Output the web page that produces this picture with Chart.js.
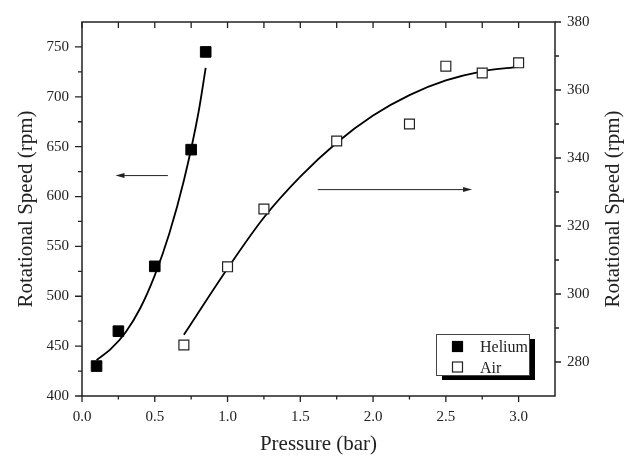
<!DOCTYPE html>
<html>
<head>
<meta charset="utf-8">
<script src="https://cdn.jsdelivr.net/npm/chart.js@4.4.1/dist/chart.umd.min.js"></script>
<style>
  html, body { margin: 0; padding: 0; background: #fff; }
  canvas { display: block; }
</style>
</head>
<body>
<canvas id="speedChart" width="634" height="458"></canvas>
<script>
// measured points
const heliumPressure = [0.1, 0.25, 0.5, 0.75, 0.85];
const heliumSpeed = [430, 465, 530, 647, 745];
const airPressure = [0.7, 1.0, 1.25, 1.75, 2.25, 2.5, 2.75, 3.0];
const airSpeed = [285, 308, 325, 345, 350, 367, 365, 368];

// fitted curves
const heliumFitPressure = [0.1, 0.2, 0.3, 0.4, 0.5, 0.6, 0.7, 0.8, 0.85];
const heliumFitSpeed = [436, 447.5, 464, 488, 521, 563, 616, 684, 729];
const airFitPressure = [0.7, 1.0, 1.25, 1.5, 1.75, 2.0, 2.25, 2.5, 2.75, 3.0];
const airFitSpeed = [288, 307.5, 322.5, 334.5, 344.5, 352.5, 358.5, 362.8, 365.5, 366.8];

// axis ticks
const pressureTicks = [0, 0.5, 1.0, 1.5, 2.0, 2.5, 3.0];
const pressureMinor = [0.25, 0.75, 1.25, 1.75, 2.25, 2.75];
const heliumTicks = [400, 450, 500, 550, 600, 650, 700, 750];
const heliumMinor = [425, 475, 525, 575, 625, 675, 725];
const airTicks = [280, 300, 320, 340, 360, 380];
const airMinor = [290, 310, 330, 350, 370];

// arrows pointing at each series' axis
const heliumArrowX = [0.59, 0.23];
const heliumArrowY = 621;
const airArrowX = [1.62, 2.68];
const airArrowY = 330.7;

const SERIF = "'Liberation Serif', 'Times New Roman', serif";
const INK = '#222';

const toXY = (xs, ys) => xs.map((x, i) => ({ x: x, y: ys[i] }));

function arrow(ctx, x1, y1, x2, y2) {
    const dir = Math.sign(x2 - x1);
    ctx.beginPath();
    ctx.moveTo(x1, y1);
    ctx.lineTo(x2 - dir * 6, y2);
    ctx.stroke();
    ctx.beginPath();
    ctx.moveTo(x2, y2);
    ctx.lineTo(x2 - dir * 9, y2 - 2.5);
    ctx.lineTo(x2 - dir * 9, y2 + 2.5);
    ctx.closePath();
    ctx.fill();
}

// frame, minor ticks, arrows, legend and the right-hand title
const decorations = {
    id: 'decorations',
    afterDraw(chart) {
        const ctx = chart.ctx;
        const a = chart.chartArea;
        const sx = chart.scales.x, sy = chart.scales.y, sy1 = chart.scales.y1;
        ctx.save();
        ctx.strokeStyle = INK;
        ctx.fillStyle = INK;

        ctx.lineWidth = 1.5;
        ctx.strokeRect(a.left, a.top, a.right - a.left, a.bottom - a.top);

        ctx.lineWidth = 1.3;
        ctx.beginPath();
        pressureTicks.concat(pressureMinor).forEach(v => {
            const px = sx.getPixelForValue(v);
            const len = pressureTicks.includes(v) ? 6 : 3.5;
            ctx.moveTo(px, a.bottom); ctx.lineTo(px, a.bottom + len);
            ctx.moveTo(px, a.top); ctx.lineTo(px, a.top + 6);
        });
        heliumTicks.concat(heliumMinor).forEach(v => {
            const py = sy.getPixelForValue(v);
            const len = heliumTicks.includes(v) ? 7 : 4;
            ctx.moveTo(a.left, py); ctx.lineTo(a.left - len, py);
        });
        airTicks.concat(airMinor).forEach(v => {
            const py = sy1.getPixelForValue(v);
            const len = airTicks.includes(v) ? 6 : 4;
            ctx.moveTo(a.right, py); ctx.lineTo(a.right + len, py);
        });
        ctx.stroke();

        ctx.lineWidth = 1;
        const hy = sy.getPixelForValue(heliumArrowY);
        arrow(ctx, sx.getPixelForValue(heliumArrowX[0]), hy, sx.getPixelForValue(heliumArrowX[1]), hy);
        const ay = sy1.getPixelForValue(airArrowY);
        arrow(ctx, sx.getPixelForValue(airArrowX[0]), ay, sx.getPixelForValue(airArrowX[1]), ay);

        // legend box with drop shadow
        const lx = a.right - 119, ly = a.bottom - 62, lw = 93, lh = 41;
        ctx.fillStyle = '#000';
        ctx.fillRect(lx + 6, ly + 5, lw, lh);
        ctx.fillStyle = '#fff';
        ctx.fillRect(lx, ly, lw, lh);
        ctx.strokeStyle = '#444';
        ctx.lineWidth = 1;
        ctx.strokeRect(lx + 0.5, ly + 0.5, lw, lh);

        ctx.font = '16px ' + SERIF;
        ctx.textAlign = 'left';
        ctx.textBaseline = 'alphabetic';
        chart.data.datasets.slice(0, 2).forEach((ds, i) => {
            const cy = ly + 12.5 + i * 20.5;
            ctx.fillStyle = ds.backgroundColor;
            ctx.fillRect(lx + 16.5, cy - 5, 10, 10);
            ctx.strokeStyle = ds.borderColor;
            ctx.lineWidth = 1.2;
            ctx.strokeRect(lx + 16.5, cy - 5, 10, 10);
            ctx.fillStyle = INK;
            ctx.fillText(ds.label, lx + 44, cy + 5.5);
        });

        ctx.translate(613, (a.top + a.bottom) / 2);
        ctx.rotate(-Math.PI / 2);
        ctx.font = '21px ' + SERIF;
        ctx.textAlign = 'center';
        ctx.textBaseline = 'middle';
        ctx.fillStyle = INK;
        ctx.fillText('Rotational Speed (rpm)', 0, 0);
        ctx.restore();
    }
};

const tickFont = { family: SERIF, size: 15 };
const titleFont = { family: SERIF, size: 21 };

new Chart(document.getElementById('speedChart'), {
    type: 'scatter',
    data: {
        datasets: [
            {
                label: 'Helium',
                data: toXY(heliumPressure, heliumSpeed),
                yAxisID: 'y',
                pointStyle: 'rect',
                pointRadius: 7.5,
                backgroundColor: '#000',
                borderColor: '#000',
                borderWidth: 1,
                order: 0
            },
            {
                label: 'Air',
                data: toXY(airPressure, airSpeed),
                yAxisID: 'y1',
                pointStyle: 'rect',
                pointRadius: 7,
                backgroundColor: '#fff',
                borderColor: '#222',
                borderWidth: 1.2,
                order: 0
            },
            {
                label: 'Helium fit',
                data: toXY(heliumFitPressure, heliumFitSpeed),
                yAxisID: 'y',
                showLine: true,
                pointRadius: 0,
                borderColor: '#000',
                borderWidth: 1.8,
                cubicInterpolationMode: 'monotone',
                order: 1
            },
            {
                label: 'Air fit',
                data: toXY(airFitPressure, airFitSpeed),
                yAxisID: 'y1',
                showLine: true,
                pointRadius: 0,
                borderColor: '#000',
                borderWidth: 1.8,
                cubicInterpolationMode: 'monotone',
                order: 1
            }
        ]
    },
    options: {
        responsive: false,
        animation: false,
        devicePixelRatio: 1,
        layout: { padding: { top: 15 } },
        plugins: {
            legend: { display: false },
            tooltip: { enabled: false }
        },
        scales: {
            x: {
                type: 'linear',
                min: 0,
                max: 3.25,
                grid: { display: false, drawTicks: false },
                border: { display: false },
                afterBuildTicks: s => { s.ticks = pressureTicks.map(v => ({ value: v })); },
                afterFit: s => { s.height = 62; },
                ticks: {
                    font: tickFont, color: INK, padding: 12, maxRotation: 0, autoSkip: false,
                    callback: v => v.toFixed(1)
                },
                title: { display: true, text: 'Pressure (bar)', font: titleFont, color: INK, padding: { top: 0, bottom: 1 } }
            },
            y: {
                position: 'left',
                min: 400,
                max: 775,
                grid: { display: false, drawTicks: false },
                border: { display: false },
                afterBuildTicks: s => { s.ticks = heliumTicks.map(v => ({ value: v })); },
                afterFit: s => { s.width = 82; },
                ticks: { font: tickFont, color: INK, padding: 13, autoSkip: false },
                title: { display: true, text: 'Rotational Speed (rpm)', font: titleFont, color: INK, padding: { top: 14, bottom: 0 } }
            },
            y1: {
                position: 'right',
                min: 270,
                max: 380,
                grid: { display: false, drawTicks: false },
                border: { display: false },
                afterBuildTicks: s => { s.ticks = airTicks.map(v => ({ value: v })); },
                afterFit: s => { s.width = 79; },
                ticks: { font: tickFont, color: INK, padding: 12, autoSkip: false }
            }
        }
    },
    plugins: [decorations]
});
</script>
</body>
</html>
